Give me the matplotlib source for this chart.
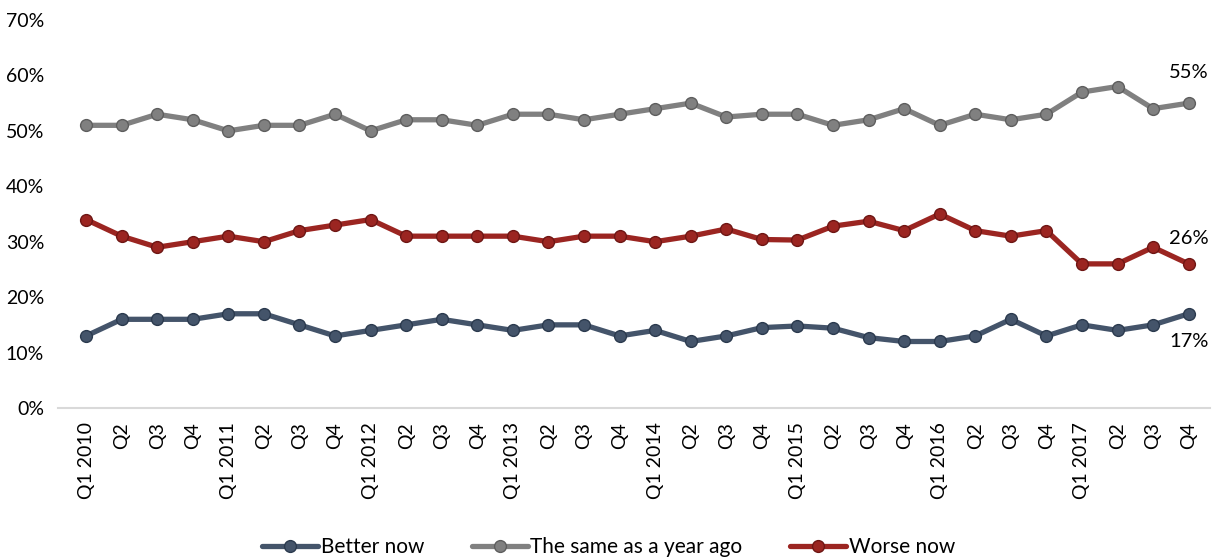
import matplotlib
matplotlib.use("Agg")
import matplotlib.pyplot as plt

plt.rcParams['font.family'] = ['Lato', 'DejaVu Sans']

quarters = ["Q1 2010", "Q2", "Q3", "Q4", "Q1 2011", "Q2", "Q3", "Q4",
            "Q1 2012", "Q2", "Q3", "Q4", "Q1 2013", "Q2", "Q3", "Q4",
            "Q1 2014", "Q2", "Q3", "Q4", "Q1 2015", "Q2", "Q3", "Q4",
            "Q1 2016", "Q2", "Q3", "Q4", "Q1 2017", "Q2", "Q3", "Q4"]

better_now = [13, 16, 16, 16, 17, 17, 15, 13, 14, 15, 16, 15, 14, 15, 15, 13,
              14, 12, 13, 14.5, 14.8, 14.4, 12.7, 12, 12, 13, 16, 13, 15, 14, 15, 17]
same_as_year_ago = [51, 51, 53, 52, 50, 51, 51, 53, 50, 52, 52, 51, 53, 53, 52, 53,
                    54, 55, 52.5, 53, 53, 51, 52, 54, 51, 53, 52, 53, 57, 58, 54, 55]
worse_now = [34, 31, 29, 30, 31, 30, 32, 33, 34, 31, 31, 31, 31, 30, 31, 31,
             30, 31, 32.3, 30.4, 30.3, 32.8, 33.7, 32, 35, 32, 31, 32, 26, 26, 29, 26]

series_names = ["Better now", "The same as a year ago", "Worse now"]
colors = ["#44546A", "#808080", "#9B2521"]
edge_colors = ["#2B3A4E", "#5E5E5E", "#6E1614"]

fig = plt.figure(figsize=(12.17, 5.6), dpi=100)
ax = fig.add_axes([58/1217, (560-408)/560, 1152/1217, 388/560])

x = list(range(len(quarters)))
for vals, name, c, ec in zip([better_now, same_as_year_ago, worse_now], series_names, colors, edge_colors):
    ax.plot(x, vals, color=c, lw=3.8, marker='o', markersize=8.5,
            markerfacecolor=c, markeredgecolor=ec, markeredgewidth=1.0,
            label=name, solid_capstyle='round')

ax.set_ylim(0, 70)
ax.set_xlim(-0.79, 31.6)
ax.set_yticks(range(0, 71, 10))
ax.set_yticklabels([f"{v}%" for v in range(0, 71, 10)], fontsize=14)
ax.set_xticks(x)
ax.set_xticklabels(quarters, rotation=90, fontsize=14, va='top')
ax.tick_params(axis='both', length=0, colors='black')
ax.tick_params(axis='y', pad=10)
ax.tick_params(axis='x', pad=10)
for s in ['top', 'right', 'left']:
    ax.spines[s].set_visible(False)
ax.spines['bottom'].set_color('#D9D9D9')
ax.spines['bottom'].set_linewidth(1.5)

# end labels
last = len(quarters) - 1
ax.annotate(f"{same_as_year_ago[-1]:.0f}%", (last, same_as_year_ago[-1]), xytext=(0, 16),
            textcoords='offset points', ha='center', va='bottom', fontsize=14.5)
ax.annotate(f"{worse_now[-1]:.0f}%", (last, worse_now[-1]), xytext=(0, 12),
            textcoords='offset points', ha='center', va='bottom', fontsize=14.5)
ax.annotate(f"{better_now[-1]:.0f}%", (last, better_now[-1]), xytext=(0, -14),
            textcoords='offset points', ha='center', va='top', fontsize=14.5)

fig.legend(loc='lower center', bbox_to_anchor=(0.5, -0.028), ncol=3, frameon=False,
           fontsize=15, handlelength=2.7, columnspacing=2.3, handletextpad=0.1)

fig.savefig("out.png", dpi=100)
